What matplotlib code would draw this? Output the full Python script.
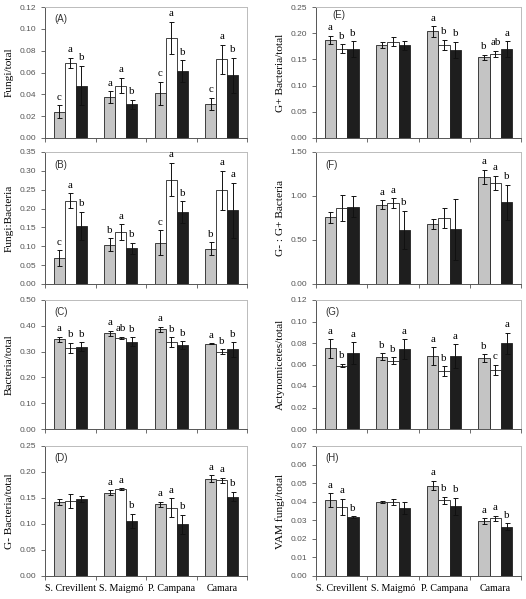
import matplotlib
matplotlib.use('Agg')
import matplotlib.pyplot as plt
import numpy as np

sites = ['S. Crevillent', 'S. Maigmó', 'P. Campana', 'Camara']

# (A) Fungi/total
a_mean = [[0.024, 0.0375, 0.041, 0.031],
          [0.069, 0.048, 0.0915, 0.072],
          [0.048, 0.031, 0.061, 0.0575]]
a_err = [[0.006, 0.0053, 0.0107, 0.0057],
         [0.0046, 0.007, 0.015, 0.0133],
         [0.018, 0.004, 0.010, 0.016]]
a_let = [['c', 'a', 'c', 'c'], ['a', 'a', 'a', 'a'], ['b', 'b', 'b', 'b']]

# (B) Fungi:Bacteria
b_mean = [[0.068, 0.1045, 0.110, 0.094],
          [0.221, 0.138, 0.277, 0.248],
          [0.154, 0.095, 0.190, 0.195]]
b_err = [[0.021, 0.017, 0.032, 0.017],
         [0.020, 0.021, 0.044, 0.052],
         [0.037, 0.015, 0.029, 0.073]]
b_let = [['c', 'b', 'c', 'b'], ['a', 'a', 'a', 'a'], ['b', 'b', 'b', 'a']]

# (C) Bacteria/total
c_mean = [[0.3475, 0.371, 0.386, 0.331],
          [0.315, 0.354, 0.336, 0.2995],
          [0.319, 0.3385, 0.3255, 0.309]]
c_err = [[0.010, 0.009, 0.011, 0.002],
         [0.020, 0.004, 0.020, 0.010],
         [0.017, 0.018, 0.014, 0.028]]
c_let = [['a', 'a', 'a', 'a'], ['b', 'ab', 'b', 'b'], ['b', 'b', 'b', 'b']]

# (D) G- Bacteria/total
d_mean = [[0.142, 0.1605, 0.138, 0.1873],
          [0.144, 0.167, 0.1317, 0.184],
          [0.1477, 0.106, 0.0997, 0.1528]]
d_err = [[0.0055, 0.0042, 0.005, 0.006],
         [0.0137, 0.002, 0.018, 0.005],
         [0.006, 0.014, 0.018, 0.009]]
d_let = [['', 'a', 'a', 'a'], ['', 'a', 'a', 'a'], ['', 'b', 'b', 'b']]

# (E) G+ Bacteria/total
e_mean = [[0.1873, 0.177, 0.2033, 0.154],
          [0.170, 0.1835, 0.1777, 0.1605],
          [0.1694, 0.177, 0.168, 0.170]]
e_err = [[0.0077, 0.0055, 0.0096, 0.005],
         [0.0086, 0.0086, 0.0096, 0.0064],
         [0.015, 0.009, 0.016, 0.015]]
e_let = [['a', '', 'a', 'b'], ['b', '', 'b', 'ab'], ['b', '', 'b', 'a']]

# (F) G- : G+ Bacteria
f_mean = [[0.759, 0.902, 0.684, 1.218],
          [0.865, 0.917, 0.752, 1.150],
          [0.880, 0.617, 0.620, 0.929]]
f_err = [[0.064, 0.047, 0.056, 0.083],
         [0.145, 0.058, 0.110, 0.080],
         [0.117, 0.218, 0.346, 0.200]]
f_let = [['', 'a', '', 'a'], ['', 'a', '', 'a'], ['', 'b', '', 'b']]

# (G) Actynomicetes/total
g_mean = [[0.075, 0.0673, 0.0676, 0.066],
          [0.0589, 0.0636, 0.054, 0.0549],
          [0.0707, 0.0744, 0.0679, 0.0797]]
g_err = [[0.0087, 0.0033, 0.0084, 0.0036],
         [0.0016, 0.003, 0.0043, 0.0047],
         [0.010, 0.0093, 0.011, 0.010]]
g_let = [['a', 'b', 'a', 'b'], ['b', 'b', 'b', 'c'], ['a', 'a', 'a', 'a']]

# (H) VAM fungi/total
h_mean = [[0.0408, 0.0399, 0.0487, 0.0295],
          [0.0372, 0.0399, 0.0408, 0.031],
          [0.0317, 0.0367, 0.0376, 0.0265]]
h_err = [[0.0039, 0.0004, 0.0025, 0.0016],
         [0.0045, 0.0014, 0.0018, 0.0014],
         [0.0004, 0.0032, 0.0045, 0.0018]]
h_let = [['a', '', 'a', 'a'], ['a', '', 'b', 'a'], ['b', '', 'b', 'b']]

panels = [
    ('(A)', 'Fungi/total', a_mean, a_err, a_let, 0.12, 0.02),
    ('(B)', 'Fungi:Bacteria', b_mean, b_err, b_let, 0.35, 0.05),
    ('(C)', 'Bacteria/total', c_mean, c_err, c_let, 0.50, 0.10),
    ('(D)', 'G- Bacteria/total', d_mean, d_err, d_let, 0.25, 0.05),
    ('(E)', 'G+ Bacteria/total', e_mean, e_err, e_let, 0.25, 0.05),
    ('(F)', 'G- : G+ Bacteria', f_mean, f_err, f_let, 1.50, 0.50),
    ('(G)', 'Actynomicetes/total', g_mean, g_err, g_let, 0.12, 0.02),
    ('(H)', 'VAM fungi/total', h_mean, h_err, h_let, 0.07, 0.01),
]

bar_colors = ['#c4c4c4', '#ffffff', '#1e1e1e']
W, H = 526, 599
col_x = [(45, 247), (316, 521)]
row_y = [(7, 138), (152, 284), (300, 429), (446, 576)]

fig = plt.figure(figsize=(W / 100, H / 100), dpi=100)
serif = 'Liberation Serif'
sans = 'Liberation Sans'

x = np.arange(1, 5)
bw = 0.22
for i, (tag, ylab, means, errs, lets, ymax, step) in enumerate(panels):
    col, row = divmod(i, 4)
    x0, x1 = col_x[col]
    y0, y1 = row_y[row]
    ax = fig.add_axes([x0 / W, 1 - y1 / H, (x1 - x0) / W, (y1 - y0) / H])
    for k in range(3):
        xs = x + (k - 1) * bw
        ax.bar(xs, means[k], bw, color=bar_colors[k], edgecolor='#222222',
               linewidth=0.6, zorder=2)
        ax.errorbar(xs, means[k], yerr=errs[k], fmt='none', ecolor='#111111',
                    elinewidth=0.7, capsize=1.8, capthick=0.7, zorder=3)
        for xi, m, e, t in zip(xs, means[k], errs[k], lets[k]):
            if t:
                ax.annotate(t, (xi, m + e), xytext=(0, 2.5), textcoords='offset points',
                            ha='center', va='bottom', fontsize=7.8, family=serif)
    ax.set_xlim(0.5, 4.5)
    ax.set_ylim(0, ymax)
    ax.set_yticks(np.arange(0, ymax + step / 2, step))
    ax.yaxis.set_major_formatter(matplotlib.ticker.FormatStrFormatter('%.2f'))
    ax.set_xticks(np.arange(0.5, 4.6, 1.0))
    ax.set_xticklabels([])
    ax.tick_params(axis='both', which='major', direction='out', length=3,
                   width=0.6, color='#555555', labelsize=6, labelcolor='#555555')
    for lab in ax.get_yticklabels():
        lab.set_family(sans)
    if row == 3:
        ax.set_xticks(x, minor=True)
        ax.set_xticklabels(sites, minor=True, fontsize=7.2, family=serif)
        ax.tick_params(axis='x', which='minor', length=0, pad=6)
    ax.set_ylabel(ylab, fontsize=8.2, family=serif, labelpad=4)
    ax.spines['left'].set_color('#555555')
    ax.spines['bottom'].set_color('#555555')
    ax.spines['top'].set_color('#bbbbbb')
    ax.spines['right'].set_color('#bbbbbb')
    for s in ax.spines.values():
        s.set_linewidth(0.7)
    ty = 0.94 if tag == '(E)' else 0.905
    tx = 0.08 if tag == '(E)' else 0.045
    ax.text(tx, ty, tag, transform=ax.transAxes, ha='left', va='center',
            fontsize=7, family=sans, color='#333333')

fig.savefig('out.png', dpi=100)
